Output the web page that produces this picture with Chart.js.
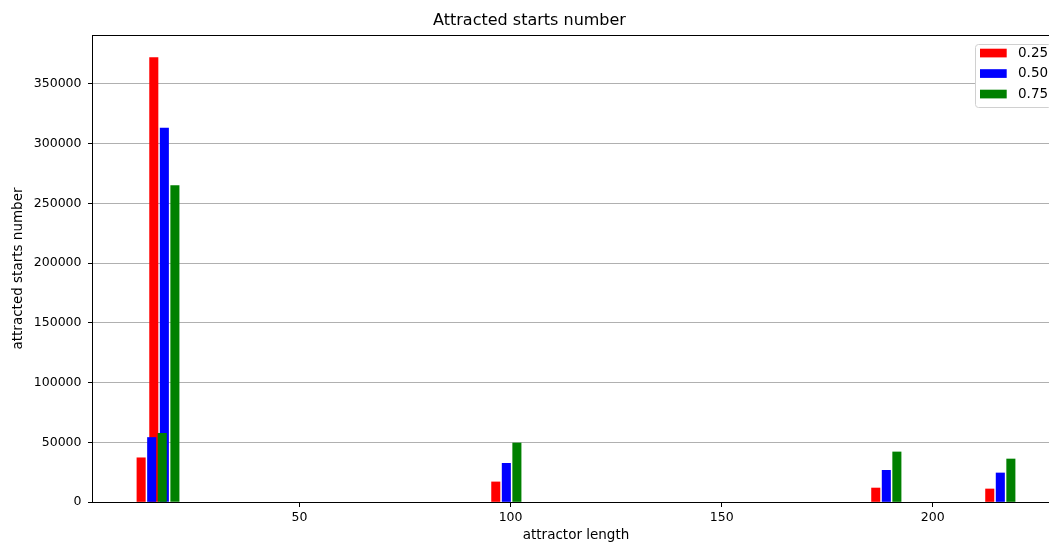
<!DOCTYPE html>
<html lang="en">
<head>
  <meta charset="UTF-8">
  <title>Attracted starts number</title>
  <script src="https://cdn.jsdelivr.net/npm/chart.js"></script>
  <style>
    html, body {
      margin: 0;
      padding: 0;
      background: #fff;
      overflow: hidden;
    }
    .wrap {
      width: 1060px;
      height: 560px;
    }
  </style>
</head>
<body>
  <div class="wrap">
    <canvas id="attrChart" width="1060" height="560"></canvas>
  </div>

  <script>
    // attractor lengths (x positions of each group)
    const lengths = [15, 18, 99, 189, 216];
    // attracted starts number per probability
    const p025 = [37000, 372000, 16800, 11700, 10900];
    const p050 = [54000, 313000, 32400, 26500, 24300];
    const p075 = [57500, 265000, 49400, 41900, 36000];
    const seriesLabels = ['0.25', '0.50', '0.75'];
    const seriesColors = ['#ff0000', '#0000ff', '#008000'];
    const xTicks = [50, 100, 150, 200];
    const yTicks = [0, 50000, 100000, 150000, 200000, 250000, 300000, 350000];

    const barShift = 2.5; // side-by-side offset, in x units
    const font = 'DejaVu Sans';

    function makeSet(values, i) {
      return {
        label: seriesLabels[i],
        data: lengths.map((len, k) => ({ x: len + (i - 1) * barShift, y: values[k] })),
        backgroundColor: seriesColors[i],
        borderWidth: 0,
        barThickness: 8.4,
        order: 3 - i // later series drawn on top, like matplotlib
      };
    }

    // box around the plot area (all four spines)
    const framePlugin = {
      id: 'frame',
      afterDatasetsDraw(chart) {
        const { ctx, chartArea: a } = chart;
        ctx.save();
        ctx.strokeStyle = '#000';
        ctx.lineWidth = 1;
        ctx.strokeRect(a.left - 0.5, a.top + 0.5, a.right - a.left, a.bottom - a.top);
        ctx.restore();
      }
    };

    // matplotlib-style legend in the upper right corner
    const boxLegend = {
      id: 'boxLegend',
      afterDraw(chart) {
        const { ctx, chartArea: a } = chart;
        const sets = chart.data.datasets;
        const w = 76, rowH = 20.5;
        const h = 63;
        const x = a.right - 8 - w, y = a.top + 9;
        ctx.save();
        ctx.fillStyle = '#fff';
        ctx.strokeStyle = '#d0d0d0';
        ctx.lineWidth = 1;
        ctx.beginPath();
        ctx.roundRect(x + 0.5, y + 0.5, w, h, 3);
        ctx.fill();
        ctx.stroke();
        ctx.font = '13.5px ' + font;
        ctx.textBaseline = 'middle';
        sets.forEach((ds, i) => {
          const cy = y + 9 + i * rowH;
          ctx.fillStyle = ds.backgroundColor;
          ctx.fillRect(x + 5, cy - 4.3, 26.7, 8.7);
          ctx.fillStyle = '#000';
          ctx.fillText(ds.label, x + 43, cy);
        });
        ctx.restore();
      }
    };

    new Chart(document.getElementById('attrChart'), {
      type: 'bar',
      data: {
        datasets: [makeSet(p025, 0), makeSet(p050, 1), makeSet(p075, 2)]
      },
      plugins: [framePlugin, boxLegend],
      options: {
        responsive: false,
        animation: false,
        layout: { padding: { top: 0, right: 1, bottom: 0, left: 0 } },
        plugins: {
          legend: { display: false },
          tooltip: { enabled: false },
          title: {
            display: true,
            text: 'Attracted starts number',
            color: '#000',
            font: { family: font, size: 16, weight: 'normal' },
            padding: { top: 11.5, bottom: 4.3 }
          }
        },
        scales: {
          x: {
            type: 'linear',
            min: 1.1,
            max: 229.9,
            offset: false,
            border: { display: false },
            grid: {
              display: true,
              drawOnChartArea: false,
              offset: false,
              tickLength: 5,
              tickColor: '#000'
            },
            ticks: {
              color: '#000',
              padding: 3,
              font: { family: font, size: 12.5 },
              maxRotation: 0
            },
            afterBuildTicks(scale) {
              scale.ticks = xTicks.map(v => ({ value: v }));
            },
            afterFit(scale) {
              scale.height = 58;
            },
            title: {
              display: true,
              text: 'attractor length',
              color: '#000',
              font: { family: font, size: 13.5 },
              padding: { top: 0, bottom: 16 }
            }
          },
          y: {
            min: 0,
            max: 391000,
            border: { display: false },
            grid: {
              color: '#b0b0b0',
              lineWidth: 1,
              tickLength: 5,
              tickColor: '#000'
            },
            ticks: {
              color: '#000',
              padding: 6.5,
              font: { family: font, size: 12.5 },
              callback: v => String(v)
            },
            afterBuildTicks(scale) {
              scale.ticks = yTicks.map(v => ({ value: v }));
            },
            afterFit(scale) {
              scale.width = 93;
            },
            title: {
              display: true,
              text: 'attracted starts number',
              color: '#000',
              font: { family: font, size: 13.5 },
              padding: { top: 10, bottom: 0 }
            }
          }
        },
        datasets: {
          bar: { grouped: false }
        }
      }
    });
  </script>
</body>
</html>
